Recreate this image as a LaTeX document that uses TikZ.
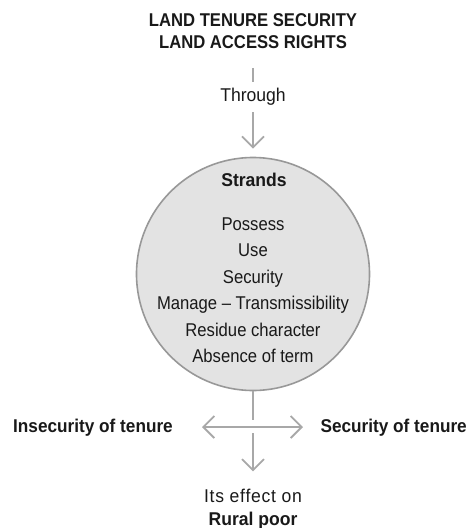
\documentclass[tikz,border=0pt]{standalone}
\usepackage{fontspec}
\setmainfont[FakeStretch=0.90]{Liberation Sans}
\newfontfamily\widefont[FakeStretch=0.95]{Liberation Sans}
\newfontfamily\labelfont[FakeStretch=0.93]{Liberation Sans}
\definecolor{linegray}{RGB}{168, 168, 168}
\definecolor{circfill}{RGB}{227, 227, 227}
\definecolor{circline}{RGB}{152, 152, 152}
\definecolor{inkdark}{RGB}{25, 25, 25}
\usetikzlibrary{arrows.meta, positioning}

\begin{document}
\begin{tikzpicture}[x=1pt, y=-1pt,
    txt/.style={text=inkdark, font=\fontsize{18.5}{22}\selectfont, align=center, inner sep=0pt},
    widetxt/.style={txt, font=\fontsize{18.5}{22}\selectfont\widefont, anchor=base},
    boldtxt/.style={txt, font=\fontsize{18.5}{22}\selectfont\labelfont\bfseries, anchor=base},
    conn/.style={draw=linegray, line width=2.4pt},
    tip/.style={-{Straight Barb[length=11pt, width=22pt, line width=1.8pt]}}]
  \useasboundingbox (0,0) rectangle (469,528);

  % Heading
  \node[txt, font=\fontsize{18.5}{22}\selectfont\bfseries] (title) at (253,31) {LAND TENURE SECURITY\\LAND ACCESS RIGHTS};
  \node[widetxt] (through) at (253,101) {Through};

  % The circle of strands
  \node[circle, draw=circline, fill=circfill, line width=1.6pt, minimum size=233pt, inner sep=0pt] (strands) at (253,274) {};
  \node[boldtxt, font=\fontsize{18.5}{22}\selectfont\widefont\bfseries] (head) at (254,186) {Strands};
  \node[txt, font=\fontsize{18.5}{26.5}\selectfont] (list) at (253,290) {Possess\\Use\\Security\\Manage -- Transmissibility\\Residue character\\Absence of term};

  % Outcomes
  \coordinate (hub) at (253,427);
  \coordinate (lefttip) at (202,427);
  \coordinate (righttip) at (303,427);
  \node[boldtxt] (insecure) at (93,432) {Insecurity of tenure};
  \node[boldtxt, anchor=base east] (secure) at (467,432) {Security of tenure};
  \node[widetxt, font=\fontsize{18.5}{22}\selectfont\widefont\addfontfeature{LetterSpace=4}] (effect) at (253,502) {Its effect on};
  \node[boldtxt, font=\fontsize{18.5}{22}\selectfont\widefont\bfseries] (poor) at (253,525) {Rural poor};

  % Connectors
  \draw[conn, shorten <=19pt, shorten >=5pt] (title.south) -- (through.north);
  \draw[conn, tip, shorten <=7pt, shorten >=8pt] (through.south) -- (strands.north);
  \draw[conn, shorten >=7pt] (strands.south) -- (hub);
  \draw[conn, tip, shorten <=6pt, shorten >=17pt] (hub) -- (effect.north);
  \draw[conn, {Straight Barb[length=11pt, width=22pt, line width=1.8pt]}-{Straight Barb[length=11pt, width=22pt, line width=1.8pt]}] (lefttip) -- (righttip);
\end{tikzpicture}
\end{document}
